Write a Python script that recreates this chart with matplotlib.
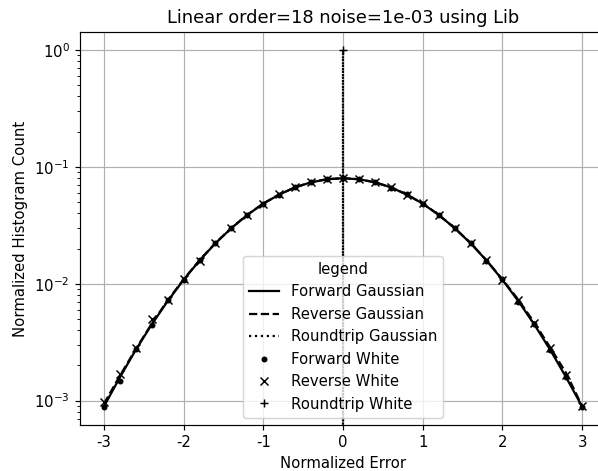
import matplotlib
matplotlib.use("Agg")
import matplotlib.pyplot as plt

# Histogram bin centres (normalized error)
bin_centers = [-3.0, -2.8, -2.6, -2.4, -2.2, -2.0, -1.8, -1.6, -1.4, -1.2, -1.0,
               -0.8, -0.6, -0.4, -0.2, 0.0, 0.2, 0.4, 0.6, 0.8, 1.0,
               1.2, 1.4, 1.6, 1.8, 2.0, 2.2, 2.4, 2.6, 2.8, 3.0]

forward_gaussian = [8.9e-4, 1.58e-3, 2.72e-3, 4.48e-3, 7.1e-3, 1.08e-2, 1.58e-2, 2.22e-2,
                    2.99e-2, 3.88e-2, 4.84e-2, 5.79e-2, 6.67e-2, 7.37e-2, 7.82e-2, 7.98e-2,
                    7.82e-2, 7.37e-2, 6.67e-2, 5.79e-2, 4.84e-2, 3.88e-2, 2.99e-2, 2.22e-2,
                    1.58e-2, 1.08e-2, 7.1e-3, 4.48e-3, 2.72e-3, 1.58e-3, 8.9e-4]

reverse_gaussian = [9.4e-4, 1.63e-3, 2.76e-3, 4.55e-3, 7.2e-3, 1.09e-2, 1.59e-2, 2.23e-2,
                    3.0e-2, 3.89e-2, 4.85e-2, 5.8e-2, 6.68e-2, 7.38e-2, 7.83e-2, 7.99e-2,
                    7.83e-2, 7.38e-2, 6.68e-2, 5.8e-2, 4.85e-2, 3.89e-2, 3.0e-2, 2.23e-2,
                    1.59e-2, 1.09e-2, 7.3e-3, 4.65e-3, 2.85e-3, 1.72e-3, 9.0e-4]

roundtrip_gaussian = [0.0] * 15 + [1.0] + [0.0] * 15

forward_white = [8.8e-4, 1.48e-3, 2.75e-3, 4.4e-3, 7.2e-3, 1.07e-2, 1.6e-2, 2.21e-2,
                 3.0e-2, 3.86e-2, 4.85e-2, 5.78e-2, 6.69e-2, 7.35e-2, 7.84e-2, 7.97e-2,
                 7.8e-2, 7.39e-2, 6.65e-2, 5.81e-2, 4.82e-2, 3.9e-2, 2.98e-2, 2.23e-2,
                 1.57e-2, 1.09e-2, 7.0e-3, 4.5e-3, 2.7e-3, 1.6e-3, 8.9e-4]

reverse_white = [9.7e-4, 1.68e-3, 2.8e-3, 5.0e-3, 7.3e-3, 1.09e-2, 1.57e-2, 2.24e-2,
                 2.98e-2, 3.9e-2, 4.83e-2, 5.8e-2, 6.66e-2, 7.39e-2, 7.81e-2, 7.99e-2,
                 7.84e-2, 7.36e-2, 6.68e-2, 5.78e-2, 4.86e-2, 3.87e-2, 3.01e-2, 2.21e-2,
                 1.59e-2, 1.07e-2, 7.2e-3, 4.6e-3, 2.8e-3, 1.65e-3, 9.0e-4]

roundtrip_white = [0.0] * 15 + [1.0] + [0.0] * 15

plt.rcParams["axes.unicode_minus"] = False

DPI = 107
fig = plt.figure(figsize=(598 / DPI, 471 / DPI), dpi=DPI)
ax = fig.add_axes([80 / 598, 46 / 471, 526 / 598, 393 / 471])

ax.plot(bin_centers, forward_gaussian, color="black", linestyle="-", label="Forward Gaussian")
ax.plot(bin_centers, reverse_gaussian, color="black", linestyle="--", label="Reverse Gaussian")
ax.plot(bin_centers, roundtrip_gaussian, color="black", linestyle=":", label="Roundtrip Gaussian")
ax.plot(bin_centers, forward_white, color="black", linestyle="none", marker=".", label="Forward White")
ax.plot(bin_centers, reverse_white, color="black", linestyle="none", marker="x", label="Reverse White")
ax.plot(bin_centers, roundtrip_white, color="black", linestyle="none", marker="+", label="Roundtrip White")

ax.set_yscale("log")
ax.grid(True)
ax.set_title("Linear order=18 noise=1e-03 using Lib")
ax.set_xlabel("Normalized Error")
ax.set_ylabel("Normalized Histogram Count")
ax.legend(title="legend", loc="lower center")

fig.savefig("out.png", dpi=DPI)
